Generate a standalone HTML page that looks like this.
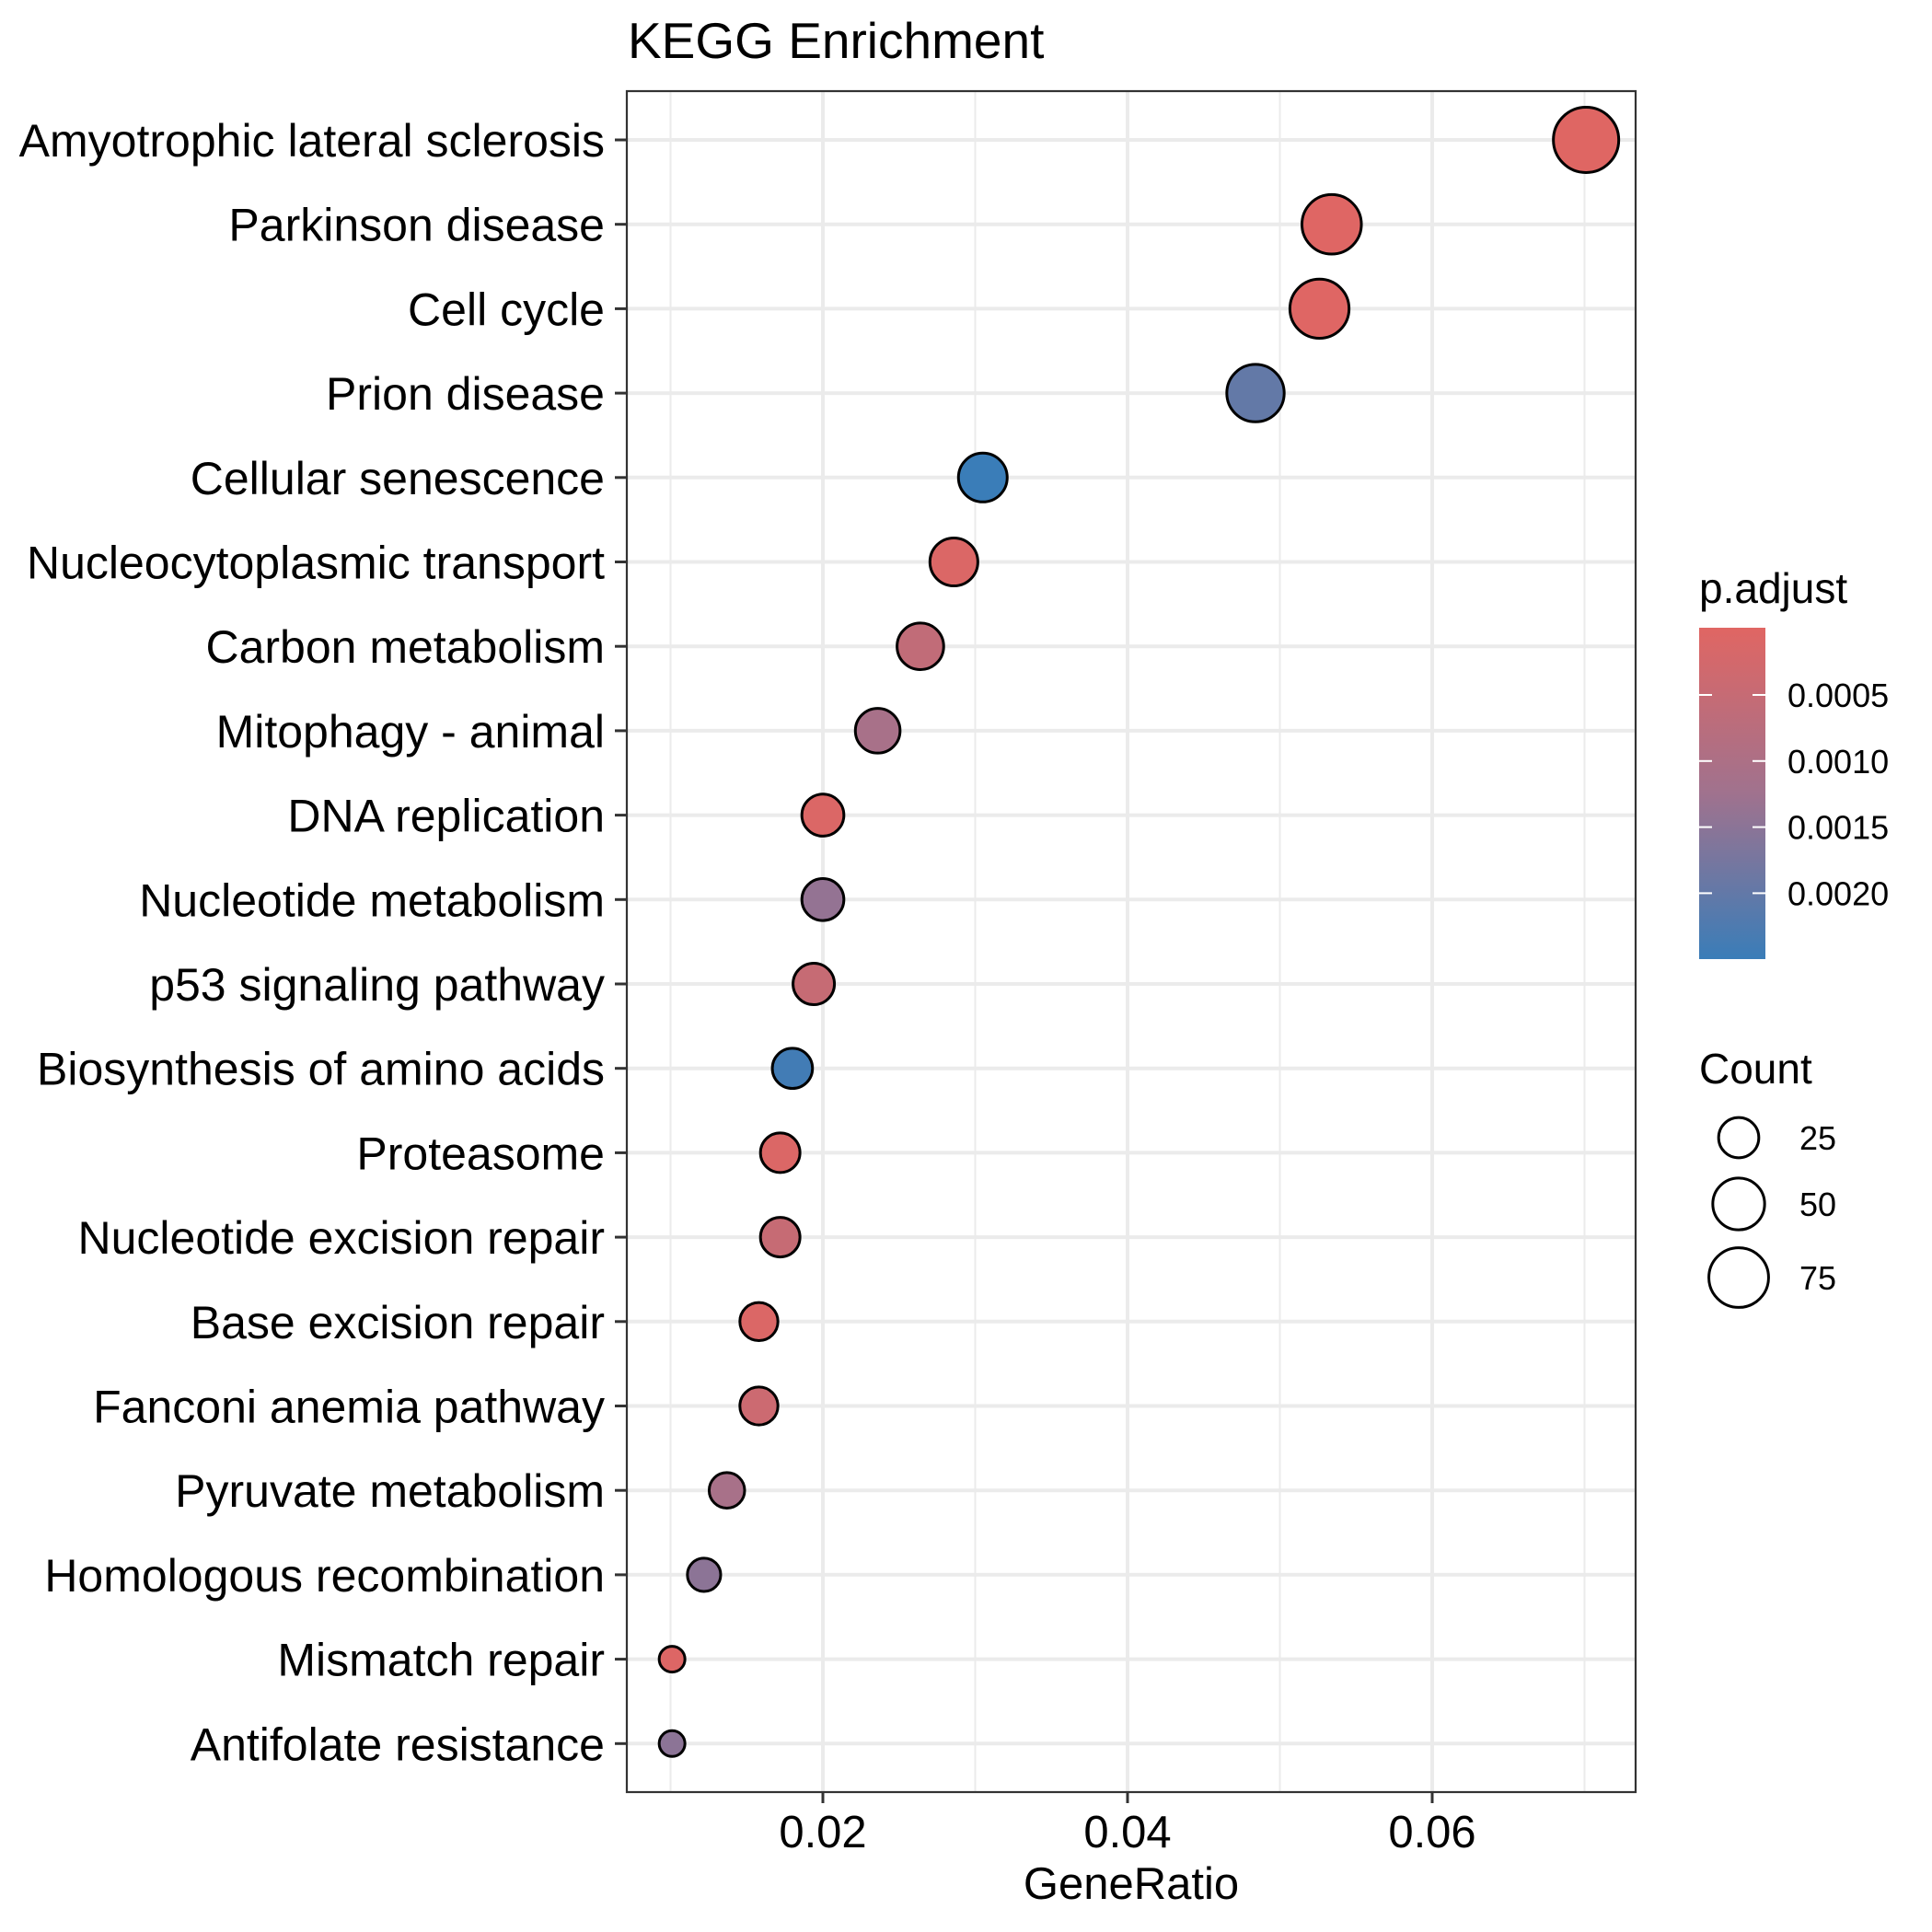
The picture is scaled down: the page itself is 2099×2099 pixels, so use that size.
<!DOCTYPE html>
<html><head><meta charset="utf-8"><style>
html,body{margin:0;padding:0;background:#fff;}
svg{display:block;font-family:"Liberation Sans",Arial,sans-serif;}
</style></head><body>
<svg id="chart" xmlns="http://www.w3.org/2000/svg" width="2099" height="2099" viewBox="0 0 2099 2099">
<defs><linearGradient id="pgrad" x1="0" y1="0" x2="0" y2="1"><stop offset="0" stop-color="#E06663"/><stop offset="0.5" stop-color="#A0728E"/><stop offset="1" stop-color="#3A7DB8"/></linearGradient></defs>
<rect width="2099" height="2099" fill="#fff"/>
<text x="682" y="63" font-size="55" fill="#000">KEGG Enrichment</text>
<g id="grid"></g>
<g id="points"></g>
<rect x="681" y="99" width="1096" height="1848" fill="none" stroke="#333" stroke-width="2.2"/>
<g id="axes"></g>
<text x="1229" y="2063" font-size="49" text-anchor="middle">GeneRatio</text>
<g id="legend">
<text x="1846" y="655" font-size="46">p.adjust</text>
<rect x="1846" y="682" width="72" height="360" fill="url(#pgrad)"/>
<text x="1846" y="1177" font-size="46">Count</text>
</g>
</svg>
<script>
const categories = ["Amyotrophic lateral sclerosis","Parkinson disease","Cell cycle","Prion disease","Cellular senescence","Nucleocytoplasmic transport","Carbon metabolism","Mitophagy - animal","DNA replication","Nucleotide metabolism","p53 signaling pathway","Biosynthesis of amino acids","Proteasome","Nucleotide excision repair","Base excision repair","Fanconi anemia pathway","Pyruvate metabolism","Homologous recombination","Mismatch repair","Antifolate resistance"];
const geneRatio = [0.0701,0.0534,0.0526,0.0484,0.0305,0.0286,0.0264,0.0236,0.0200,0.0200,0.0194,0.0180,0.0172,0.0172,0.0158,0.0158,0.0137,0.0122,0.0101,0.0101];
const counts = [97,74,73,67,42,40,37,33,28,28,27,25,24,24,22,22,19,17,14,14];
const pAdjust = [0.00001,0.00002,0.00002,0.0020,0.0025,0.0001,0.0006,0.0011,0.0001,0.0014,0.0005,0.0024,0.0001,0.0005,0.0001,0.0004,0.0011,0.0015,0.00005,0.0015];
const xTicks = [0.02,0.04,0.06];
const xMinor = [0.01,0.03,0.05,0.07];
const pTicks = [0.0005,0.0010,0.0015,0.0020];
const pTickLabels = ["0.0005","0.0010","0.0015","0.0020"];
const sizeBreaks = [25,50,75];

const NS="http://www.w3.org/2000/svg";
const L=681,R=1777,T=99,B=1947;
const xS=v=>1556+(v-0.06)*16550;
const yS=i=>152+i*91.7;
const pMin=0, pMax=0.0025;
const cMin=14, cMax=97;
const rS=c=>15.5+21.5*Math.sqrt(Math.max(0,(c-cMin)/(cMax-cMin)));
const lerp=(a,b,t)=>Math.round(a+(b-a)*t);
function col(p){
  const t=Math.min(1,Math.max(0,(p-pMin)/(pMax-pMin)));
  const s=[[224,102,99],[160,114,142],[58,125,184]];
  let a,b,u; if(t<0.5){a=s[0];b=s[1];u=t/0.5;}else{a=s[1];b=s[2];u=(t-0.5)/0.5;}
  return `rgb(${lerp(a[0],b[0],u)},${lerp(a[1],b[1],u)},${lerp(a[2],b[2],u)})`;
}
function mk(tag,attrs,parent){const e=document.createElementNS(NS,tag);for(const k in attrs)e.setAttribute(k,attrs[k]);parent.appendChild(e);return e;}
const grid=document.getElementById('grid'),pts=document.getElementById('points'),axes=document.getElementById('axes'),leg=document.getElementById('legend');
xMinor.forEach(v=>{const e=mk('line',{x1:xS(v),x2:xS(v),y1:T,y2:B,stroke:'#EBEBEB','stroke-width':2},grid);

});
xTicks.forEach((v,i)=>{const e=mk('line',{x1:xS(v),x2:xS(v),y1:T,y2:B,stroke:'#EBEBEB','stroke-width':4},grid);


const t=mk('line',{x1:xS(v),x2:xS(v),y1:B,y2:B+12,stroke:'#333','stroke-width':3},axes);


const lb=mk('text',{x:xS(v),y:2007,'font-size':49,'text-anchor':'middle',fill:'#000'},axes);lb.textContent=v.toFixed(2);

});
categories.forEach((c,i)=>{const y=yS(i);
const g=mk('line',{x1:L,x2:R,y1:y,y2:y,stroke:'#EBEBEB','stroke-width':4},grid);


const t=mk('line',{x1:668,x2:L,y1:y,y2:y,stroke:'#333','stroke-width':3},axes);


const lb=mk('text',{x:657,y:y+18,'font-size':50,'text-anchor':'end',fill:'#000'},axes);lb.textContent=c;


const d=mk('circle',{cx:xS(geneRatio[i]),cy:y,r:rS(counts[i])-1.5,fill:col(pAdjust[i]),stroke:'#000','stroke-width':3},pts);

});
const pY=p=>755+(p-0.0005)/0.0005*71.8;
pTicks.forEach((p,i)=>{const y=pY(p);
const a=mk('line',{x1:1846,x2:1860,y1:y,y2:y,stroke:'#fff','stroke-width':2},leg);


const b=mk('line',{x1:1904,x2:1918,y1:y,y2:y,stroke:'#fff','stroke-width':2},leg);


const lb=mk('text',{x:1942,y:y+13,'font-size':36,fill:'#000'},leg);lb.textContent=pTickLabels[i];

});
const sY=[1236,1308,1388];
sizeBreaks.forEach((c,i)=>{
const e=mk('circle',{cx:1889,cy:sY[i],r:rS(c)-1.5,fill:'none',stroke:'#000','stroke-width':3},leg);


const lb=mk('text',{x:1955,y:sY[i]+13,'font-size':36,fill:'#000'},leg);lb.textContent=c;

});
</script>
</body></html>
